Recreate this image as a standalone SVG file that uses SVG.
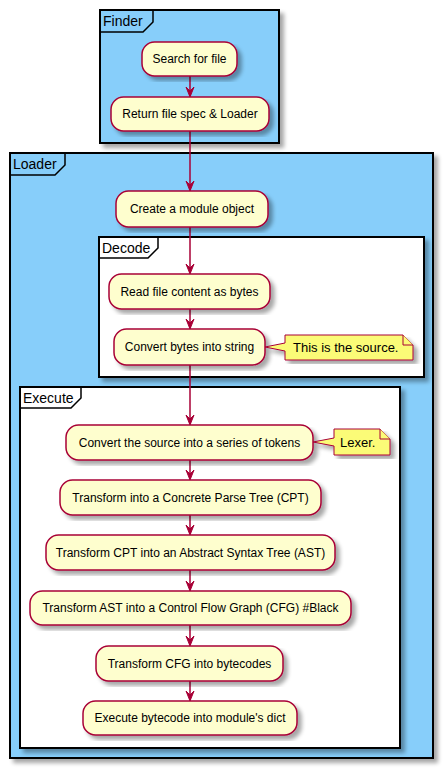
<svg xmlns="http://www.w3.org/2000/svg" width="443" height="769" viewBox="0 0 443 769">
<defs>
<filter id="sh" x="-5%" y="-5%" width="115%" height="120%">
<feGaussianBlur in="SourceAlpha" stdDeviation="2" result="b"/>
<feOffset in="b" dx="4" dy="4" result="o"/>
<feComponentTransfer in="o" result="c"><feFuncA type="linear" slope="0.35"/></feComponentTransfer>
<feMerge><feMergeNode in="c"/><feMergeNode in="SourceGraphic"/></feMerge>
</filter>
<marker id="ah" viewBox="0 0 8 10" refX="4" refY="10" markerWidth="8" markerHeight="10" markerUnits="userSpaceOnUse" orient="auto-start-reverse">
</marker>
</defs>
<style>
.frame{stroke:#000;stroke-width:2;}
.blue{fill:#87CEFA;}
.white{fill:#FFFFFF;}
.tab{fill:none;stroke:#000;stroke-width:1.5;}
.ftitle{font-family:"Liberation Sans",Arial,sans-serif;font-size:14px;fill:#000;}
.act{fill:#FEFECE;stroke:#A80036;stroke-width:1.5;}
.atext{font-family:"Liberation Sans",Arial,sans-serif;font-size:12px;fill:#000;text-anchor:middle;}
.note{fill:#FBFB77;stroke:#A80036;stroke-width:1;}
.ntext{font-family:"Liberation Sans",Arial,sans-serif;font-size:13px;fill:#000;}
.line{stroke:#A80036;stroke-width:1.5;fill:none;}
.head{fill:#A80036;stroke:#A80036;stroke-width:1;}
</style>
<rect width="443" height="769" fill="#FFFFFF"/>

<g id="frame-finder">
<rect class="frame blue" x="100" y="10" width="179" height="133" filter="url(#sh)"/>
<path class="tab" d="M100,10 L153,10 L153,22 L143,32 L100,32"/>
<text class="ftitle" x="103" y="26">Finder</text>
</g>

<g id="frame-loader">
<rect class="frame blue" x="10" y="153" width="423" height="605" filter="url(#sh)"/>
<path class="tab" d="M10,153 L65,153 L65,165 L55,175 L10,175"/>
<text class="ftitle" x="13" y="169">Loader</text>
</g>

<g id="frame-decode">
<rect class="frame white" x="99" y="237" width="325" height="140" filter="url(#sh)"/>
<path class="tab" d="M99,237 L158,237 L158,248 L148,258 L99,258"/>
<text class="ftitle" x="102" y="253">Decode</text>
</g>

<g id="frame-execute">
<rect class="frame white" x="20" y="387" width="380" height="361" filter="url(#sh)"/>
<path class="tab" d="M20,387 L81,387 L81,398 L71,408 L20,408"/>
<text class="ftitle" x="23" y="403">Execute</text>
</g>

<g id="connectors">
<line class="line" x1="190" y1="76" x2="190" y2="96"/>
<polygon class="head" points="186,87 190,97 194,87 190,91"/>
<line class="line" x1="190" y1="131" x2="190" y2="190"/>
<polygon class="head" points="186,181 190,191 194,181 190,185"/>
<line class="line" x1="190" y1="227" x2="190" y2="273"/>
<polygon class="head" points="186,264 190,274 194,264 190,268"/>
<line class="line" x1="190" y1="309" x2="190" y2="328"/>
<polygon class="head" points="186,319 190,329 194,319 190,323"/>
<line class="line" x1="190" y1="365" x2="190" y2="424"/>
<polygon class="head" points="186,415 190,425 194,415 190,419"/>
<line class="line" x1="190" y1="460" x2="190" y2="479"/>
<polygon class="head" points="186,470 190,480 194,470 190,474"/>
<line class="line" x1="190" y1="515" x2="190" y2="534"/>
<polygon class="head" points="186,525 190,535 194,525 190,529"/>
<line class="line" x1="190" y1="570" x2="190" y2="590"/>
<polygon class="head" points="186,581 190,591 194,581 190,585"/>
<line class="line" x1="190" y1="625" x2="190" y2="645"/>
<polygon class="head" points="186,636 190,646 194,636 190,640"/>
<line class="line" x1="190" y1="681" x2="190" y2="700"/>
<polygon class="head" points="186,691 190,701 194,691 190,695"/>
</g>

<g id="search-for-file">
<rect class="act" x="142" y="42" width="95" height="34" rx="12.5" filter="url(#sh)"/>
<text class="atext" x="189.5" y="63">Search for file</text>
</g>
<g id="return-file-spec">
<rect class="act" x="111" y="97" width="158" height="34" rx="12.5" filter="url(#sh)"/>
<text class="atext" x="190" y="118">Return file spec &amp; Loader</text>
</g>
<g id="create-module">
<rect class="act" x="116" y="191" width="152" height="36" rx="12.5" filter="url(#sh)"/>
<text class="atext" x="192" y="213">Create a module object</text>
</g>
<g id="read-file">
<rect class="act" x="109" y="274" width="161" height="35" rx="12.5" filter="url(#sh)"/>
<text class="atext" x="189.5" y="296">Read file content as bytes</text>
</g>
<g id="convert-bytes">
<rect class="act" x="114" y="329" width="151" height="36" rx="12.5" filter="url(#sh)"/>
<text class="atext" x="189.5" y="351">Convert bytes into string</text>
</g>
<g id="note-source">
<path class="note" d="M285,335 L285,343 L265,347 L285,351 L285,360 L413,360 L413,345 L403,335 Z" filter="url(#sh)"/>
<path class="note" d="M403,335 L403,345 L413,345" fill="none"/>
<text class="ntext" x="293" y="352">This is the source.</text>
</g>
<g id="convert-source">
<rect class="act" x="66" y="425" width="247" height="35" rx="12.5" filter="url(#sh)"/>
<text class="atext" x="189.5" y="447">Convert the source into a series of tokens</text>
</g>
<g id="note-lexer">
<path class="note" d="M334,429 L334,438 L313,442 L334,446 L334,455 L390,455 L390,439 L380,429 Z" filter="url(#sh)"/>
<path class="note" d="M380,429 L380,439 L390,439" fill="none"/>
<text class="ntext" x="340" y="447">Lexer.</text>
</g>
<g id="cpt">
<rect class="act" x="60" y="480" width="261" height="35" rx="12.5" filter="url(#sh)"/>
<text class="atext" x="190.5" y="502">Transform into a Concrete Parse Tree (CPT)</text>
</g>
<g id="ast">
<rect class="act" x="46" y="535" width="289" height="35" rx="12.5" filter="url(#sh)"/>
<text class="atext" x="190.5" y="557">Transform CPT into an Abstract Syntax Tree (AST)</text>
</g>
<g id="cfg">
<rect class="act" x="30" y="591" width="321" height="34" rx="12.5" filter="url(#sh)"/>
<text class="atext" x="190.5" y="612">Transform AST into a Control Flow Graph (CFG) #Black</text>
</g>
<g id="bytecodes">
<rect class="act" x="96" y="646" width="187" height="35" rx="12.5" filter="url(#sh)"/>
<text class="atext" x="189.5" y="668">Transform CFG into bytecodes</text>
</g>
<g id="execute-bytecode">
<rect class="act" x="83" y="701" width="214" height="34" rx="12.5" filter="url(#sh)"/>
<text class="atext" x="190" y="722">Execute bytecode into module's dict</text>
</g>
</svg>
